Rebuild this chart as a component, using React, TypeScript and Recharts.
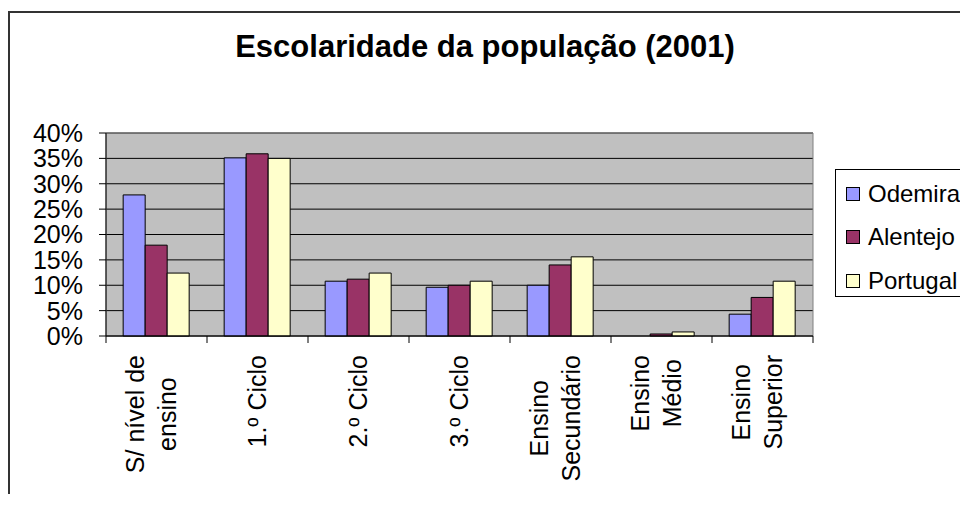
import React from "react";
import {
  BarChart, Bar, XAxis, YAxis, CartesianGrid, ReferenceArea,
} from "recharts";

const categories = [
  "S/ nível de\nensino",
  "1.º Ciclo",
  "2.º Ciclo",
  "3.º Ciclo",
  "Ensino\nSecundário",
  "Ensino\nMédio",
  "Ensino\nSuperior",
];
const odemira = [27.8, 35.1, 10.8, 9.6, 10.0, 0, 4.3];
const alentejo = [17.9, 35.9, 11.2, 10.0, 14.0, 0.4, 7.6];
const portugal = [12.4, 35.0, 12.4, 10.8, 15.6, 0.8, 10.8];
const yTicks = [0, 5, 10, 15, 20, 25, 30, 35, 40];
const seriesNames = ["Odemira", "Alentejo", "Portugal"];
const seriesColors = ["#9999FF", "#993366", "#FFFFCC"];

const FONT = "'Liberation Sans', Arial, sans-serif";
const W = 958;
const H = 484;
const MARGIN = { top: 120, right: 155, bottom: 0, left: 0 };
const Y_AXIS_W = 96;
const PLOT_W = W - MARGIN.right - Y_AXIS_W;

const data = categories.map((c, i) => ({
  name: c,
  Odemira: odemira[i],
  Alentejo: alentejo[i],
  Portugal: portugal[i],
}));

let ctx: CanvasRenderingContext2D | null = null;
function textWidth(s: string) {
  if (!ctx) ctx = document.createElement("canvas").getContext("2d");
  if (!ctx) return s.length * 13;
  ctx.font = `25px ${FONT}`;
  return ctx.measureText(s).width;
}

function CategoryTick(props: any) {
  const { x, y, payload, index } = props;
  const lines = String(payload.value).split("\n");
  const maxW = Math.max(...lines.map(textWidth));
  const bw = PLOT_W / categories.length;
  const left = x - bw / 2;
  return (
    <g>
      <line x1={left} y1={y} x2={left} y2={y + 7} stroke="#000" />
      {index === categories.length - 1 && (
        <line x1={left + bw} y1={y} x2={left + bw} y2={y + 7} stroke="#000" />
      )}
      <g transform={`translate(${x},${y}) rotate(-90)`}>
        {lines.map((l, i) => (
          <text
            key={i}
            x={-(19 + maxW / 2)}
            y={8 - (lines.length - 1) * 21 + i * 32}
            textAnchor="middle"
            fontSize={25}
            fontFamily={FONT}
            fill="#000"
          >
            {l}
          </text>
        ))}
      </g>
    </g>
  );
}

function LegendBox() {
  return (
    <div
      style={{
        position: "absolute", left: 825, top: 156,
        width: 200, height: 128, boxSizing: "border-box",
        border: "1px solid #000", borderRight: "none", background: "#fff",
        paddingTop: 2, paddingLeft: 10, fontSize: 24, color: "#000",
      }}
    >
      {seriesNames.map((n, i) => (
        <div key={n} style={{ height: 43.5, display: "flex", alignItems: "center" }}>
          <span
            style={{
              display: "inline-block", width: 14, height: 14, boxSizing: "border-box",
              border: "1px solid #000", background: seriesColors[i], marginRight: 8,
            }}
          />
          <span>{n}</span>
        </div>
      ))}
    </div>
  );
}

export default function App() {
  return (
    <div
      style={{
        position: "relative", top: 3, width: 960, height: 486, boxSizing: "border-box",
        borderLeft: "2px solid #333", borderTop: "2px solid #333", overflow: "hidden",
        fontFamily: FONT,
      }}
    >
      <div
        style={{
          position: "absolute", left: 0, top: 18, width: 950, textAlign: "center",
          fontSize: 31, fontWeight: "bold", lineHeight: "31px", color: "#000",
        }}
      >
        Escolaridade da população (2001)
      </div>
      <BarChart
        width={W}
        height={H}
        data={data}
        margin={MARGIN}
        barCategoryGap="17%"
        barGap={0}
      >
        <CartesianGrid vertical={false} stroke="#000" fill="#C0C0C0" fillOpacity={1} />
        <ReferenceArea y1={0} y2={40} fill="none" stroke="#808080" strokeWidth={1} />
        <XAxis
          dataKey="name"
          interval={0}
          height={H - MARGIN.top - 203}
          axisLine={{ stroke: "#000" }}
          tickLine={false}
          tickSize={0}
          tickMargin={0}
          tick={<CategoryTick />}
        />
        <YAxis
          width={Y_AXIS_W}
          domain={[0, 40]}
          ticks={yTicks}
          interval={0}
          tickFormatter={(v) => `${v}%`}
          axisLine={{ stroke: "#000" }}
          tickLine={{ stroke: "#000" }}
          tickSize={7}
          tickMargin={16}
          tick={{ fontSize: 25, fill: "#000", fontFamily: FONT }}
        />
        {seriesNames.map((n, i) => (
          <Bar
            key={n}
            dataKey={n}
            fill={seriesColors[i]}
            stroke="#000"
            strokeWidth={1}
            isAnimationActive={false}
          />
        ))}
      </BarChart>
      <LegendBox />
    </div>
  );
}
